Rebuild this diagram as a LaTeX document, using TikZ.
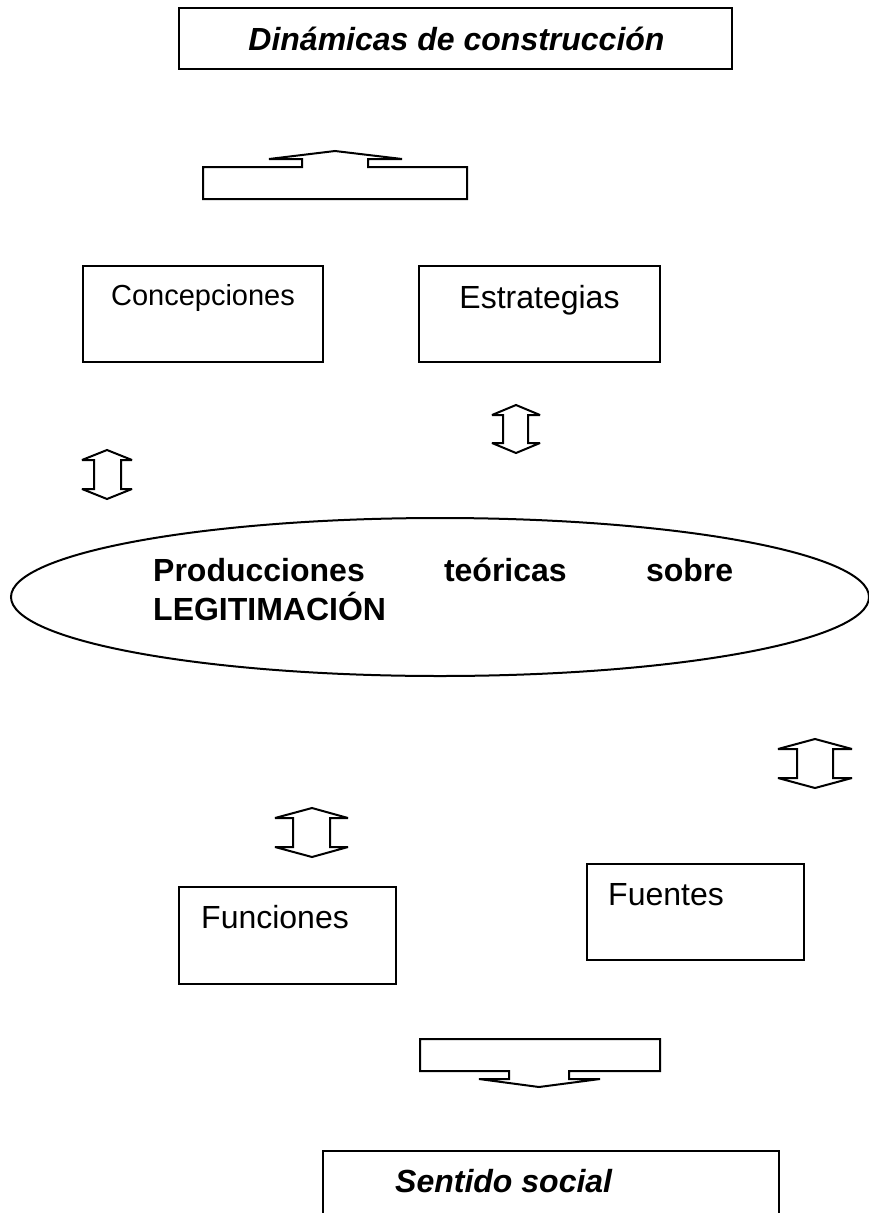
\documentclass[tikz,border=0pt]{standalone}
\usepackage{fontspec}
\setmainfont{Liberation Sans}
\usetikzlibrary{shapes.geometric}
\begin{document}
\begin{tikzpicture}[x=1pt,y=-1pt,
  box/.style={draw, line width=2pt, rectangle, inner sep=0pt},
  lbl/.style={inner sep=0pt, font=\fontsize{32}{38}\selectfont},
  blockarrow/.style={draw, line width=2pt, line join=miter, miter limit=2, fill=white}]
\useasboundingbox (0,0) rectangle (869,1213);
\clip (0,0) rectangle (869,1213);
\fill[white] (0,0) rectangle (869,1213);

% boxes
\node[box, minimum width=553pt, minimum height=61pt] (title) at (455.5,38.5) {};
\node[box, minimum width=240pt, minimum height=96pt] (conc) at (203,314) {};
\node[box, minimum width=241pt, minimum height=96pt] (estr) at (539.5,314) {};
\node[box, minimum width=217pt, minimum height=97pt] (func) at (287.5,935.5) {};
\node[box, minimum width=217pt, minimum height=96pt] (fuen) at (695.5,912) {};
\node[box, minimum width=456pt, minimum height=79pt] (sent) at (551,1190.5) {};
\node[draw, ellipse, line width=2pt, minimum width=858pt, minimum height=158pt, inner sep=0pt] (ell) at (440,597) {};

% texts
\node[lbl, anchor=base, font=\fontsize{32}{38}\selectfont\bfseries\itshape] (titletxt) at (456.5,50) {Dinámicas de construcción};
\node[lbl, anchor=base, font=\fontsize{29}{35}\selectfont] (conctxt) at (203,305) {Concepciones};
\node[lbl, anchor=base] (estrtxt) at (539.5,308) {Estrategias};
\node[lbl, anchor=base west] (functxt) at (201,928) {Funciones};
\node[lbl, anchor=base west] (fuentxt) at (608,905) {Fuentes};
\node[lbl, anchor=base west, font=\fontsize{32}{38}\selectfont\bfseries\itshape] (senttxt) at (395,1192) {Sentido social};
\node[lbl, anchor=base west, font=\fontsize{32}{38}\selectfont\bfseries] (prodA) at (153,581) {\makebox[580pt][s]{Producciones teóricas sobre}};
\node[lbl, anchor=base west, font=\fontsize{32}{38}\selectfont\bfseries] (prodB) at (153,620) {LEGITIMACIÓN};

% up block arrow
\draw[blockarrow] (335,151) -- (402,159) -- (368,159) -- (368,167) -- (467,167) -- (467,199)
  -- (203,199) -- (203,167) -- (302,167) -- (302,159) -- (269,159) -- cycle;

% down block arrow
\draw[blockarrow] (420,1039) -- (660,1039) -- (660,1071) -- (569,1071) -- (569,1079) -- (600,1079)
  -- (539,1087) -- (479,1079) -- (509,1079) -- (509,1071) -- (420,1071) -- cycle;

% double arrows
\draw[blockarrow] (107,450) -- (132,460) -- (121,460) -- (121,489) -- (132,489) -- (107,499)
  -- (82,489) -- (94,489) -- (94,460) -- (82,460) -- cycle;
\draw[blockarrow] (516,405) -- (540,415) -- (528,415) -- (528,443) -- (540,443) -- (516,453)
  -- (492,443) -- (503,443) -- (503,415) -- (492,415) -- cycle;
\draw[blockarrow] (815,739) -- (852,749) -- (833,749) -- (833,778) -- (852,778) -- (815,788)
  -- (778,778) -- (797,778) -- (797,749) -- (778,749) -- cycle;
\draw[blockarrow] (312,808) -- (348,818) -- (330,818) -- (330,847) -- (348,847) -- (312,857)
  -- (275,847) -- (293,847) -- (293,818) -- (275,818) -- cycle;
\end{tikzpicture}
\end{document}
